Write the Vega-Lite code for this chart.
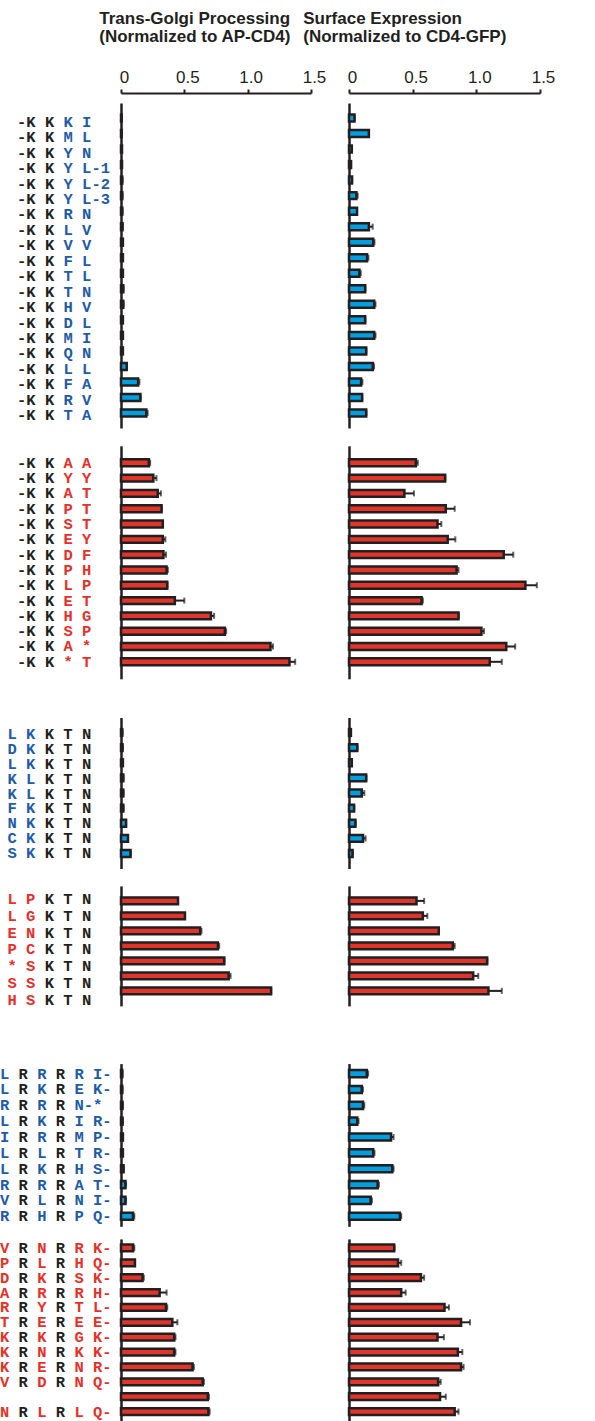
{
"$schema": "https://vega.github.io/schema/vega-lite/v6.json",
"padding": {"top": 9, "left": 0, "right": 0, "bottom": 0},
"config": {"view": {"stroke": null}, "font": "Liberation Sans", "axis": {"grid": false}},
"datasets": {"d": [
{"g":1,"id":"1-01","k":"-K K","m":"\u200b\u00a0\u00a0\u00a0\u00a0\u00a0K I","golgi":0.005,"ge":0,"surf":0.043,"se":0},
{"g":1,"id":"1-02","k":"-K K","m":"\u200b\u00a0\u00a0\u00a0\u00a0\u00a0M L","golgi":0.005,"ge":0,"surf":0.156,"se":0},
{"g":1,"id":"1-03","k":"-K K","m":"\u200b\u00a0\u00a0\u00a0\u00a0\u00a0Y N","golgi":0.008,"ge":0,"surf":0.022,"se":0},
{"g":1,"id":"1-04","k":"-K K","m":"\u200b\u00a0\u00a0\u00a0\u00a0\u00a0Y L-1","golgi":0.008,"ge":0,"surf":0.016,"se":0},
{"g":1,"id":"1-05","k":"-K K","m":"\u200b\u00a0\u00a0\u00a0\u00a0\u00a0Y L-2","golgi":0.01,"ge":0,"surf":0.024,"se":0},
{"g":1,"id":"1-06","k":"-K K","m":"\u200b\u00a0\u00a0\u00a0\u00a0\u00a0Y L-3","golgi":0.01,"ge":0,"surf":0.058,"se":0.01},
{"g":1,"id":"1-07","k":"-K K","m":"\u200b\u00a0\u00a0\u00a0\u00a0\u00a0R N","golgi":0.01,"ge":0,"surf":0.063,"se":0},
{"g":1,"id":"1-08","k":"-K K","m":"\u200b\u00a0\u00a0\u00a0\u00a0\u00a0L V","golgi":0.012,"ge":0,"surf":0.156,"se":0.03},
{"g":1,"id":"1-09","k":"-K K","m":"\u200b\u00a0\u00a0\u00a0\u00a0\u00a0V V","golgi":0.015,"ge":0,"surf":0.19,"se":0.01},
{"g":1,"id":"1-10","k":"-K K","m":"\u200b\u00a0\u00a0\u00a0\u00a0\u00a0F L","golgi":0.015,"ge":0,"surf":0.142,"se":0.01},
{"g":1,"id":"1-11","k":"-K K","m":"\u200b\u00a0\u00a0\u00a0\u00a0\u00a0T L","golgi":0.015,"ge":0,"surf":0.082,"se":0.01},
{"g":1,"id":"1-12","k":"-K K","m":"\u200b\u00a0\u00a0\u00a0\u00a0\u00a0T N","golgi":0.018,"ge":0,"surf":0.127,"se":0},
{"g":1,"id":"1-13","k":"-K K","m":"\u200b\u00a0\u00a0\u00a0\u00a0\u00a0H V","golgi":0.018,"ge":0,"surf":0.198,"se":0.01},
{"g":1,"id":"1-14","k":"-K K","m":"\u200b\u00a0\u00a0\u00a0\u00a0\u00a0D L","golgi":0.015,"ge":0,"surf":0.127,"se":0},
{"g":1,"id":"1-15","k":"-K K","m":"\u200b\u00a0\u00a0\u00a0\u00a0\u00a0M I","golgi":0.015,"ge":0,"surf":0.198,"se":0.01},
{"g":1,"id":"1-16","k":"-K K","m":"\u200b\u00a0\u00a0\u00a0\u00a0\u00a0Q N","golgi":0.015,"ge":0,"surf":0.135,"se":0},
{"g":1,"id":"1-17","k":"-K K","m":"\u200b\u00a0\u00a0\u00a0\u00a0\u00a0L L","golgi":0.045,"ge":0,"surf":0.187,"se":0.01},
{"g":1,"id":"1-18","k":"-K K","m":"\u200b\u00a0\u00a0\u00a0\u00a0\u00a0F A","golgi":0.135,"ge":0.01,"surf":0.095,"se":0.01},
{"g":1,"id":"1-19","k":"-K K","m":"\u200b\u00a0\u00a0\u00a0\u00a0\u00a0R V","golgi":0.153,"ge":0,"surf":0.103,"se":0},
{"g":1,"id":"1-20","k":"-K K","m":"\u200b\u00a0\u00a0\u00a0\u00a0\u00a0T A","golgi":0.2,"ge":0.01,"surf":0.135,"se":0},
{"g":2,"id":"2-01","k":"-K K","m":"\u200b\u00a0\u00a0\u00a0\u00a0\u00a0A A","golgi":0.22,"ge":0.01,"surf":0.525,"se":0.015},
{"g":2,"id":"2-02","k":"-K K","m":"\u200b\u00a0\u00a0\u00a0\u00a0\u00a0Y Y","golgi":0.255,"ge":0.025,"surf":0.755,"se":0},
{"g":2,"id":"2-03","k":"-K K","m":"\u200b\u00a0\u00a0\u00a0\u00a0\u00a0A T","golgi":0.29,"ge":0.025,"surf":0.435,"se":0.075},
{"g":2,"id":"2-04","k":"-K K","m":"\u200b\u00a0\u00a0\u00a0\u00a0\u00a0P T","golgi":0.32,"ge":0,"surf":0.76,"se":0.07},
{"g":2,"id":"2-05","k":"-K K","m":"\u200b\u00a0\u00a0\u00a0\u00a0\u00a0S T","golgi":0.33,"ge":0,"surf":0.695,"se":0.03},
{"g":2,"id":"2-06","k":"-K K","m":"\u200b\u00a0\u00a0\u00a0\u00a0\u00a0E Y","golgi":0.33,"ge":0.02,"surf":0.775,"se":0.06},
{"g":2,"id":"2-07","k":"-K K","m":"\u200b\u00a0\u00a0\u00a0\u00a0\u00a0D F","golgi":0.335,"ge":0.02,"surf":1.215,"se":0.075},
{"g":2,"id":"2-08","k":"-K K","m":"\u200b\u00a0\u00a0\u00a0\u00a0\u00a0P H","golgi":0.36,"ge":0.01,"surf":0.845,"se":0.015},
{"g":2,"id":"2-09","k":"-K K","m":"\u200b\u00a0\u00a0\u00a0\u00a0\u00a0L P","golgi":0.365,"ge":0,"surf":1.385,"se":0.09},
{"g":2,"id":"2-10","k":"-K K","m":"\u200b\u00a0\u00a0\u00a0\u00a0\u00a0E T","golgi":0.425,"ge":0.075,"surf":0.57,"se":0.01},
{"g":2,"id":"2-11","k":"-K K","m":"\u200b\u00a0\u00a0\u00a0\u00a0\u00a0H G","golgi":0.71,"ge":0.025,"surf":0.86,"se":0},
{"g":2,"id":"2-12","k":"-K K","m":"\u200b\u00a0\u00a0\u00a0\u00a0\u00a0S P","golgi":0.82,"ge":0.01,"surf":1.04,"se":0.02},
{"g":2,"id":"2-13","k":"-K K","m":"\u200b\u00a0\u00a0\u00a0\u00a0\u00a0A *","golgi":1.18,"ge":0.02,"surf":1.235,"se":0.07},
{"g":2,"id":"2-14","k":"-K K","m":"\u200b\u00a0\u00a0\u00a0\u00a0\u00a0* T","golgi":1.33,"ge":0.045,"surf":1.105,"se":0.095},
{"g":3,"id":"3-01","k":"\u200b\u00a0\u00a0\u00a0\u00a0K T N","m":"L K","golgi":0.01,"ge":0,"surf":0.015,"se":0},
{"g":3,"id":"3-02","k":"\u200b\u00a0\u00a0\u00a0\u00a0K T N","m":"D K","golgi":0.012,"ge":0,"surf":0.065,"se":0},
{"g":3,"id":"3-03","k":"\u200b\u00a0\u00a0\u00a0\u00a0K T N","m":"L K","golgi":0.015,"ge":0,"surf":0.022,"se":0},
{"g":3,"id":"3-04","k":"\u200b\u00a0\u00a0\u00a0\u00a0K T N","m":"K L","golgi":0.018,"ge":0,"surf":0.135,"se":0},
{"g":3,"id":"3-05","k":"\u200b\u00a0\u00a0\u00a0\u00a0K T N","m":"K L","golgi":0.018,"ge":0,"surf":0.1,"se":0.02},
{"g":3,"id":"3-06","k":"\u200b\u00a0\u00a0\u00a0\u00a0K T N","m":"F K","golgi":0.018,"ge":0,"surf":0.04,"se":0},
{"g":3,"id":"3-07","k":"\u200b\u00a0\u00a0\u00a0\u00a0K T N","m":"N K","golgi":0.04,"ge":0,"surf":0.05,"se":0},
{"g":3,"id":"3-08","k":"\u200b\u00a0\u00a0\u00a0\u00a0K T N","m":"C K","golgi":0.055,"ge":0,"surf":0.11,"se":0.02},
{"g":3,"id":"3-09","k":"\u200b\u00a0\u00a0\u00a0\u00a0K T N","m":"S K","golgi":0.075,"ge":0,"surf":0.028,"se":0},
{"g":4,"id":"4-01","k":"\u200b\u00a0\u00a0\u00a0\u00a0K T N","m":"L P","golgi":0.45,"ge":0,"surf":0.53,"se":0.06},
{"g":4,"id":"4-02","k":"\u200b\u00a0\u00a0\u00a0\u00a0K T N","m":"L G","golgi":0.505,"ge":0,"surf":0.58,"se":0.035},
{"g":4,"id":"4-03","k":"\u200b\u00a0\u00a0\u00a0\u00a0K T N","m":"E N","golgi":0.625,"ge":0.01,"surf":0.705,"se":0},
{"g":4,"id":"4-04","k":"\u200b\u00a0\u00a0\u00a0\u00a0K T N","m":"P C","golgi":0.765,"ge":0.01,"surf":0.815,"se":0.015},
{"g":4,"id":"4-05","k":"\u200b\u00a0\u00a0\u00a0\u00a0K T N","m":"* S","golgi":0.815,"ge":0,"surf":1.085,"se":0},
{"g":4,"id":"4-06","k":"\u200b\u00a0\u00a0\u00a0\u00a0K T N","m":"S S","golgi":0.85,"ge":0.015,"surf":0.975,"se":0.04},
{"g":4,"id":"4-07","k":"\u200b\u00a0\u00a0\u00a0\u00a0K T N","m":"H S","golgi":1.185,"ge":0,"surf":1.095,"se":0.105},
{"g":5,"id":"5-01","k":"\u200b\u00a0\u00a0R\u00a0\u00a0\u00a0R","m":"L\u00a0\u00a0\u00a0R\u00a0\u00a0\u00a0R I-","golgi":0.01,"ge":0,"surf":0.14,"se":0.01},
{"g":5,"id":"5-02","k":"\u200b\u00a0\u00a0R\u00a0\u00a0\u00a0R","m":"L\u00a0\u00a0\u00a0K\u00a0\u00a0\u00a0E K-","golgi":0.01,"ge":0,"surf":0.1,"se":0.01},
{"g":5,"id":"5-03","k":"\u200b\u00a0\u00a0R\u00a0\u00a0\u00a0R","m":"R\u00a0\u00a0\u00a0R\u00a0\u00a0\u00a0N-*","golgi":0.012,"ge":0,"surf":0.11,"se":0.01},
{"g":5,"id":"5-04","k":"\u200b\u00a0\u00a0R\u00a0\u00a0\u00a0R","m":"L\u00a0\u00a0\u00a0K\u00a0\u00a0\u00a0I R-","golgi":0.012,"ge":0,"surf":0.065,"se":0.01},
{"g":5,"id":"5-05","k":"\u200b\u00a0\u00a0R\u00a0\u00a0\u00a0R","m":"I\u00a0\u00a0\u00a0R\u00a0\u00a0\u00a0M P-","golgi":0.015,"ge":0,"surf":0.33,"se":0.02},
{"g":5,"id":"5-06","k":"\u200b\u00a0\u00a0R\u00a0\u00a0\u00a0R","m":"L\u00a0\u00a0\u00a0L\u00a0\u00a0\u00a0T R-","golgi":0.015,"ge":0,"surf":0.19,"se":0.01},
{"g":5,"id":"5-07","k":"\u200b\u00a0\u00a0R\u00a0\u00a0\u00a0R","m":"L\u00a0\u00a0\u00a0K\u00a0\u00a0\u00a0H S-","golgi":0.02,"ge":0,"surf":0.34,"se":0.01},
{"g":5,"id":"5-08","k":"\u200b\u00a0\u00a0R\u00a0\u00a0\u00a0R","m":"R\u00a0\u00a0\u00a0R\u00a0\u00a0\u00a0A T-","golgi":0.035,"ge":0.005,"surf":0.225,"se":0.01},
{"g":5,"id":"5-09","k":"\u200b\u00a0\u00a0R\u00a0\u00a0\u00a0R","m":"V\u00a0\u00a0\u00a0L\u00a0\u00a0\u00a0N I-","golgi":0.035,"ge":0.005,"surf":0.17,"se":0.01},
{"g":5,"id":"5-10","k":"\u200b\u00a0\u00a0R\u00a0\u00a0\u00a0R","m":"R\u00a0\u00a0\u00a0H\u00a0\u00a0\u00a0P Q-","golgi":0.095,"ge":0.01,"surf":0.4,"se":0.01},
{"g":6,"id":"6-01","k":"\u200b\u00a0\u00a0R\u00a0\u00a0\u00a0R","m":"V\u00a0\u00a0\u00a0N\u00a0\u00a0\u00a0R K-","golgi":0.095,"ge":0.01,"surf":0.355,"se":0},
{"g":6,"id":"6-02","k":"\u200b\u00a0\u00a0R\u00a0\u00a0\u00a0R","m":"P\u00a0\u00a0\u00a0L\u00a0\u00a0\u00a0H Q-","golgi":0.11,"ge":0,"surf":0.385,"se":0.025},
{"g":6,"id":"6-03","k":"\u200b\u00a0\u00a0R\u00a0\u00a0\u00a0R","m":"D\u00a0\u00a0\u00a0K\u00a0\u00a0\u00a0S K-","golgi":0.17,"ge":0.01,"surf":0.565,"se":0.025},
{"g":6,"id":"6-04","k":"\u200b\u00a0\u00a0R\u00a0\u00a0\u00a0R","m":"A\u00a0\u00a0\u00a0R\u00a0\u00a0\u00a0R H-","golgi":0.305,"ge":0.055,"surf":0.41,"se":0.035},
{"g":6,"id":"6-05","k":"\u200b\u00a0\u00a0R\u00a0\u00a0\u00a0R","m":"R\u00a0\u00a0\u00a0Y\u00a0\u00a0\u00a0T L-","golgi":0.355,"ge":0.01,"surf":0.75,"se":0.035},
{"g":6,"id":"6-06","k":"\u200b\u00a0\u00a0R\u00a0\u00a0\u00a0R","m":"T\u00a0\u00a0\u00a0E\u00a0\u00a0\u00a0E E-","golgi":0.405,"ge":0.04,"surf":0.88,"se":0.07},
{"g":6,"id":"6-07","k":"\u200b\u00a0\u00a0R\u00a0\u00a0\u00a0R","m":"K\u00a0\u00a0\u00a0K\u00a0\u00a0\u00a0G K-","golgi":0.42,"ge":0.01,"surf":0.695,"se":0.05},
{"g":6,"id":"6-08","k":"\u200b\u00a0\u00a0R\u00a0\u00a0\u00a0R","m":"K\u00a0\u00a0\u00a0N\u00a0\u00a0\u00a0K K-","golgi":0.42,"ge":0.01,"surf":0.855,"se":0.035},
{"g":6,"id":"6-09","k":"\u200b\u00a0\u00a0R\u00a0\u00a0\u00a0R","m":"K\u00a0\u00a0\u00a0E\u00a0\u00a0\u00a0N R-","golgi":0.565,"ge":0.01,"surf":0.88,"se":0.02},
{"g":6,"id":"6-10","k":"\u200b\u00a0\u00a0R\u00a0\u00a0\u00a0R","m":"V\u00a0\u00a0\u00a0D\u00a0\u00a0\u00a0N Q-","golgi":0.645,"ge":0.01,"surf":0.7,"se":0.02},
{"g":6,"id":"6-11","k":"","m":"","golgi":0.685,"ge":0.01,"surf":0.715,"se":0.045},
{"g":6,"id":"6-12","k":"\u200b\u00a0\u00a0R\u00a0\u00a0\u00a0R","m":"N\u00a0\u00a0\u00a0L\u00a0\u00a0\u00a0L Q-","golgi":0.69,"ge":0.01,"surf":0.83,"se":0.03}
]},
"spacing": 50.6,
"vconcat": [
{"spacing": 38.5, "vconcat": [
 {"spacing": 11.8, "vconcat": [
  {"spacing": 38, "bounds": "flush", "hconcat": [
   {"width": 83, "height": 331, "data": {"name": "d"}, "transform": [{"filter": "datum.g == 1"}],
    "encoding": {"y": {"field": "id", "type": "nominal", "sort": null, "axis": null, "scale": {"type": "band", "paddingInner": 0.55, "paddingOuter": 1.031}}},
    "layer": [
     {"mark": {"type": "text", "align": "left", "baseline": "middle", "font": "Liberation Mono", "fontWeight": "bold", "fontSize": 15.5, "color": "#231f20", "x": 17}, "encoding": {"text": {"field": "k"}}},
     {"mark": {"type": "text", "align": "left", "baseline": "middle", "font": "Liberation Mono", "fontWeight": "bold", "fontSize": 15.5, "color": "#1f5ca8", "x": 17}, "encoding": {"text": {"field": "m"}}}
    ]},
   {"width": 190, "height": 325, "data": {"name": "d"}, "transform": [{"filter": "datum.g == 1"}],
    "title": {"text": ["Trans-Golgi Processing", "(Normalized to AP-CD4)"], "anchor": "start", "dx": -20, "offset": 22, "font": "Liberation Sans", "fontSize": 17, "fontWeight": "bold", "color": "#231f20", "lineHeight": 18.5},
    "encoding": {
     "y": {"field": "id", "type": "nominal", "sort": null, "scale": {"paddingInner": 0.55, "paddingOuter": 0.741}, "axis": {"domain": true, "domainWidth": 2.5, "domainColor": "#231f20", "ticks": false, "labels": false, "title": null}},
     "x": {"field": "golgi", "type": "quantitative", "scale": {"domain": [0, 1.5], "nice": false}, "axis": {"orient": "top", "values": [0, 0.5, 1, 1.5], "labelExpr": "datum.value == 0 ? '0' : format(datum.value, '.1f')", "labelFont": "Liberation Sans", "labelFontSize": 17, "labelColor": "#231f20", "labelFlush": false, "labelOffset": 3, "labelPadding": 3, "labelAngle": 0, "tickSize": 4, "tickWidth": 2, "tickColor": "#231f20", "domainWidth": 2, "domainColor": "#231f20", "offset": 10, "title": null}}
    },
    "layer": [
     {"mark": {"type": "errorbar", "ticks": {"size": 6, "thickness": 2, "color": "#231f20"}, "rule": {"strokeWidth": 2, "color": "#231f20"}}, "encoding": {"xError": {"field": "ge"}}},
     {"mark": {"type": "bar", "fill": "#009fe0", "stroke": "#231f20", "strokeWidth": 2.5}, "encoding": {}}
    ]},
   {"width": 191, "height": 325, "data": {"name": "d"}, "transform": [{"filter": "datum.g == 1"}],
    "title": {"text": ["Surface Expression", "(Normalized to CD4-GFP)"], "anchor": "start", "dx": -44, "offset": 22, "font": "Liberation Sans", "fontSize": 17, "fontWeight": "bold", "color": "#231f20", "lineHeight": 18.5},
    "encoding": {
     "y": {"field": "id", "type": "nominal", "sort": null, "scale": {"paddingInner": 0.55, "paddingOuter": 0.741}, "axis": {"domain": true, "domainWidth": 2.5, "domainColor": "#231f20", "ticks": false, "labels": false, "title": null}},
     "x": {"field": "surf", "type": "quantitative", "scale": {"domain": [0, 1.5], "nice": false}, "axis": {"orient": "top", "values": [0, 0.5, 1, 1.5], "labelExpr": "datum.value == 0 ? '0' : format(datum.value, '.1f')", "labelFont": "Liberation Sans", "labelFontSize": 17, "labelColor": "#231f20", "labelFlush": false, "labelOffset": 3, "labelPadding": 3, "labelAngle": 0, "tickSize": 4, "tickWidth": 2, "tickColor": "#231f20", "domainWidth": 2, "domainColor": "#231f20", "offset": 10, "title": null}}
    },
    "layer": [
     {"mark": {"type": "errorbar", "ticks": {"size": 6, "thickness": 2, "color": "#231f20"}, "rule": {"strokeWidth": 2, "color": "#231f20"}}, "encoding": {"xError": {"field": "se"}}},
     {"mark": {"type": "bar", "fill": "#009fe0", "stroke": "#231f20", "strokeWidth": 2.5}, "encoding": {}}
    ]}
  ]},
  {"spacing": 38, "bounds": "flush", "hconcat": [
   {"width": 83, "height": 233, "data": {"name": "d"}, "transform": [{"filter": "datum.g == 2"}],
    "encoding": {"y": {"field": "id", "type": "nominal", "sort": null, "axis": null, "scale": {"type": "band", "paddingInner": 0.55, "paddingOuter": 0.885}}},
    "layer": [
     {"mark": {"type": "text", "align": "left", "baseline": "middle", "font": "Liberation Mono", "fontWeight": "bold", "fontSize": 15.5, "color": "#231f20", "x": 17}, "encoding": {"text": {"field": "k"}}},
     {"mark": {"type": "text", "align": "left", "baseline": "middle", "font": "Liberation Mono", "fontWeight": "bold", "fontSize": 15.5, "color": "#e5312a", "x": 17}, "encoding": {"text": {"field": "m"}}}
    ]},
   {"width": 190, "height": 233, "data": {"name": "d"}, "transform": [{"filter": "datum.g == 2"}],
    "encoding": {
     "y": {"field": "id", "type": "nominal", "sort": null, "scale": {"paddingInner": 0.55, "paddingOuter": 0.885}, "axis": {"domain": true, "domainWidth": 2.5, "domainColor": "#231f20", "ticks": false, "labels": false, "title": null}},
     "x": {"field": "golgi", "type": "quantitative", "scale": {"domain": [0, 1.5], "nice": false}, "axis": null}
    },
    "layer": [
     {"mark": {"type": "errorbar", "ticks": {"size": 6, "thickness": 2, "color": "#231f20"}, "rule": {"strokeWidth": 2, "color": "#231f20"}}, "encoding": {"xError": {"field": "ge"}}},
     {"mark": {"type": "bar", "fill": "#e0352b", "stroke": "#231f20", "strokeWidth": 2.5}, "encoding": {}}
    ]},
   {"width": 191, "height": 233, "data": {"name": "d"}, "transform": [{"filter": "datum.g == 2"}],
    "encoding": {
     "y": {"field": "id", "type": "nominal", "sort": null, "scale": {"paddingInner": 0.55, "paddingOuter": 0.885}, "axis": {"domain": true, "domainWidth": 2.5, "domainColor": "#231f20", "ticks": false, "labels": false, "title": null}},
     "x": {"field": "surf", "type": "quantitative", "scale": {"domain": [0, 1.5], "nice": false}, "axis": null}
    },
    "layer": [
     {"mark": {"type": "errorbar", "ticks": {"size": 6, "thickness": 2, "color": "#231f20"}, "rule": {"strokeWidth": 2, "color": "#231f20"}}, "encoding": {"xError": {"field": "se"}}},
     {"mark": {"type": "bar", "fill": "#e0352b", "stroke": "#231f20", "strokeWidth": 2.5}, "encoding": {}}
    ]}
  ]}
 ]},
 {"spacing": 16.4, "vconcat": [
  {"spacing": 38, "bounds": "flush", "hconcat": [
   {"width": 83, "height": 152, "data": {"name": "d"}, "transform": [{"filter": "datum.g == 3"}],
    "encoding": {"y": {"field": "id", "type": "nominal", "sort": null, "axis": null, "scale": {"type": "band", "paddingInner": 0.55, "paddingOuter": 0.845}}},
    "layer": [
     {"mark": {"type": "text", "align": "left", "baseline": "middle", "font": "Liberation Mono", "fontWeight": "bold", "fontSize": 15.5, "color": "#231f20", "x": 7.5}, "encoding": {"text": {"field": "k"}}},
     {"mark": {"type": "text", "align": "left", "baseline": "middle", "font": "Liberation Mono", "fontWeight": "bold", "fontSize": 15.5, "color": "#1f5ca8", "x": 7.5}, "encoding": {"text": {"field": "m"}}}
    ]},
   {"width": 190, "height": 151, "data": {"name": "d"}, "transform": [{"filter": "datum.g == 3"}],
    "encoding": {
     "y": {"field": "id", "type": "nominal", "sort": null, "scale": {"paddingInner": 0.55, "paddingOuter": 0.767}, "axis": {"domain": true, "domainWidth": 2.5, "domainColor": "#231f20", "ticks": false, "labels": false, "title": null}},
     "x": {"field": "golgi", "type": "quantitative", "scale": {"domain": [0, 1.5], "nice": false}, "axis": null}
    },
    "layer": [
     {"mark": {"type": "errorbar", "ticks": {"size": 6, "thickness": 2, "color": "#231f20"}, "rule": {"strokeWidth": 2, "color": "#231f20"}}, "encoding": {"xError": {"field": "ge"}}},
     {"mark": {"type": "bar", "fill": "#009fe0", "stroke": "#231f20", "strokeWidth": 2.5}, "encoding": {}}
    ]},
   {"width": 191, "height": 151, "data": {"name": "d"}, "transform": [{"filter": "datum.g == 3"}],
    "encoding": {
     "y": {"field": "id", "type": "nominal", "sort": null, "scale": {"paddingInner": 0.55, "paddingOuter": 0.767}, "axis": {"domain": true, "domainWidth": 2.5, "domainColor": "#231f20", "ticks": false, "labels": false, "title": null}},
     "x": {"field": "surf", "type": "quantitative", "scale": {"domain": [0, 1.5], "nice": false}, "axis": null}
    },
    "layer": [
     {"mark": {"type": "errorbar", "ticks": {"size": 6, "thickness": 2, "color": "#231f20"}, "rule": {"strokeWidth": 2, "color": "#231f20"}}, "encoding": {"xError": {"field": "se"}}},
     {"mark": {"type": "bar", "fill": "#009fe0", "stroke": "#231f20", "strokeWidth": 2.5}, "encoding": {}}
    ]}
  ]},
  {"spacing": 38, "bounds": "flush", "hconcat": [
   {"width": 83, "height": 127, "data": {"name": "d"}, "transform": [{"filter": "datum.g == 4"}],
    "encoding": {"y": {"field": "id", "type": "nominal", "sort": null, "axis": null, "scale": {"type": "band", "paddingInner": 0.55, "paddingOuter": 0.573}}},
    "layer": [
     {"mark": {"type": "text", "align": "left", "baseline": "middle", "font": "Liberation Mono", "fontWeight": "bold", "fontSize": 15.5, "color": "#231f20", "x": 7.5}, "encoding": {"text": {"field": "k"}}},
     {"mark": {"type": "text", "align": "left", "baseline": "middle", "font": "Liberation Mono", "fontWeight": "bold", "fontSize": 15.5, "color": "#e5312a", "x": 7.5}, "encoding": {"text": {"field": "m"}}}
    ]},
   {"width": 190, "height": 120, "data": {"name": "d"}, "transform": [{"filter": "datum.g == 4"}],
    "encoding": {
     "y": {"field": "id", "type": "nominal", "sort": null, "scale": {"paddingInner": 0.55, "paddingOuter": 0.775}, "axis": {"domain": true, "domainWidth": 2.5, "domainColor": "#231f20", "ticks": false, "labels": false, "title": null}},
     "x": {"field": "golgi", "type": "quantitative", "scale": {"domain": [0, 1.5], "nice": false}, "axis": null}
    },
    "layer": [
     {"mark": {"type": "errorbar", "ticks": {"size": 6, "thickness": 2, "color": "#231f20"}, "rule": {"strokeWidth": 2, "color": "#231f20"}}, "encoding": {"xError": {"field": "ge"}}},
     {"mark": {"type": "bar", "fill": "#e0352b", "stroke": "#231f20", "strokeWidth": 2.5}, "encoding": {}}
    ]},
   {"width": 191, "height": 120, "data": {"name": "d"}, "transform": [{"filter": "datum.g == 4"}],
    "encoding": {
     "y": {"field": "id", "type": "nominal", "sort": null, "scale": {"paddingInner": 0.55, "paddingOuter": 0.775}, "axis": {"domain": true, "domainWidth": 2.5, "domainColor": "#231f20", "ticks": false, "labels": false, "title": null}},
     "x": {"field": "surf", "type": "quantitative", "scale": {"domain": [0, 1.5], "nice": false}, "axis": null}
    },
    "layer": [
     {"mark": {"type": "errorbar", "ticks": {"size": 6, "thickness": 2, "color": "#231f20"}, "rule": {"strokeWidth": 2, "color": "#231f20"}}, "encoding": {"xError": {"field": "se"}}},
     {"mark": {"type": "bar", "fill": "#e0352b", "stroke": "#231f20", "strokeWidth": 2.5}, "encoding": {}}
    ]}
  ]}
 ]}
]},
{"spacing": 12.3, "vconcat": [
  {"spacing": 38, "bounds": "flush", "hconcat": [
   {"width": 83, "height": 162.7, "data": {"name": "d"}, "transform": [{"filter": "datum.g == 5"}],
    "encoding": {"y": {"field": "id", "type": "nominal", "sort": null, "axis": null, "scale": {"type": "band", "paddingInner": 0.55, "paddingOuter": 0.406}}},
    "layer": [
     {"mark": {"type": "text", "align": "left", "baseline": "middle", "font": "Liberation Mono", "fontWeight": "bold", "fontSize": 15.5, "color": "#231f20", "x": 0}, "encoding": {"text": {"field": "k"}}},
     {"mark": {"type": "text", "align": "left", "baseline": "middle", "font": "Liberation Mono", "fontWeight": "bold", "fontSize": 15.5, "color": "#1f5ca8", "x": 0}, "encoding": {"text": {"field": "m"}}}
    ]},
   {"width": 190, "height": 162.7, "data": {"name": "d"}, "transform": [{"filter": "datum.g == 5"}],
    "encoding": {
     "y": {"field": "id", "type": "nominal", "sort": null, "scale": {"paddingInner": 0.55, "paddingOuter": 0.406}, "axis": {"domain": true, "domainWidth": 2.5, "domainColor": "#231f20", "ticks": false, "labels": false, "title": null}},
     "x": {"field": "golgi", "type": "quantitative", "scale": {"domain": [0, 1.5], "nice": false}, "axis": null}
    },
    "layer": [
     {"mark": {"type": "errorbar", "ticks": {"size": 6, "thickness": 2, "color": "#231f20"}, "rule": {"strokeWidth": 2, "color": "#231f20"}}, "encoding": {"xError": {"field": "ge"}}},
     {"mark": {"type": "bar", "fill": "#009fe0", "stroke": "#231f20", "strokeWidth": 2.5}, "encoding": {}}
    ]},
   {"width": 191, "height": 162.7, "data": {"name": "d"}, "transform": [{"filter": "datum.g == 5"}],
    "encoding": {
     "y": {"field": "id", "type": "nominal", "sort": null, "scale": {"paddingInner": 0.55, "paddingOuter": 0.406}, "axis": {"domain": true, "domainWidth": 2.5, "domainColor": "#231f20", "ticks": false, "labels": false, "title": null}},
     "x": {"field": "surf", "type": "quantitative", "scale": {"domain": [0, 1.5], "nice": false}, "axis": null}
    },
    "layer": [
     {"mark": {"type": "errorbar", "ticks": {"size": 6, "thickness": 2, "color": "#231f20"}, "rule": {"strokeWidth": 2, "color": "#231f20"}}, "encoding": {"xError": {"field": "se"}}},
     {"mark": {"type": "bar", "fill": "#009fe0", "stroke": "#231f20", "strokeWidth": 2.5}, "encoding": {}}
    ]}
  ]},
  {"spacing": 38, "bounds": "flush", "hconcat": [
   {"width": 83, "height": 181.7, "data": {"name": "d"}, "transform": [{"filter": "datum.g == 6"}],
    "encoding": {"y": {"field": "id", "type": "nominal", "sort": null, "axis": null, "scale": {"type": "band", "paddingInner": 0.55, "paddingOuter": 0.38}}},
    "layer": [
     {"mark": {"type": "text", "align": "left", "baseline": "middle", "font": "Liberation Mono", "fontWeight": "bold", "fontSize": 15.5, "color": "#231f20", "x": 0}, "encoding": {"text": {"field": "k"}}},
     {"mark": {"type": "text", "align": "left", "baseline": "middle", "font": "Liberation Mono", "fontWeight": "bold", "fontSize": 15.5, "color": "#e5312a", "x": 0}, "encoding": {"text": {"field": "m"}}}
    ]},
   {"width": 190, "height": 181.7, "data": {"name": "d"}, "transform": [{"filter": "datum.g == 6"}],
    "encoding": {
     "y": {"field": "id", "type": "nominal", "sort": null, "scale": {"paddingInner": 0.55, "paddingOuter": 0.38}, "axis": {"domain": true, "domainWidth": 2.5, "domainColor": "#231f20", "ticks": false, "labels": false, "title": null}},
     "x": {"field": "golgi", "type": "quantitative", "scale": {"domain": [0, 1.5], "nice": false}, "axis": null}
    },
    "layer": [
     {"mark": {"type": "errorbar", "ticks": {"size": 6, "thickness": 2, "color": "#231f20"}, "rule": {"strokeWidth": 2, "color": "#231f20"}}, "encoding": {"xError": {"field": "ge"}}},
     {"mark": {"type": "bar", "fill": "#e0352b", "stroke": "#231f20", "strokeWidth": 2.5}, "encoding": {}}
    ]},
   {"width": 191, "height": 181.7, "data": {"name": "d"}, "transform": [{"filter": "datum.g == 6"}],
    "encoding": {
     "y": {"field": "id", "type": "nominal", "sort": null, "scale": {"paddingInner": 0.55, "paddingOuter": 0.38}, "axis": {"domain": true, "domainWidth": 2.5, "domainColor": "#231f20", "ticks": false, "labels": false, "title": null}},
     "x": {"field": "surf", "type": "quantitative", "scale": {"domain": [0, 1.5], "nice": false}, "axis": null}
    },
    "layer": [
     {"mark": {"type": "errorbar", "ticks": {"size": 6, "thickness": 2, "color": "#231f20"}, "rule": {"strokeWidth": 2, "color": "#231f20"}}, "encoding": {"xError": {"field": "se"}}},
     {"mark": {"type": "bar", "fill": "#e0352b", "stroke": "#231f20", "strokeWidth": 2.5}, "encoding": {}}
    ]}
  ]}
]}
]
}
